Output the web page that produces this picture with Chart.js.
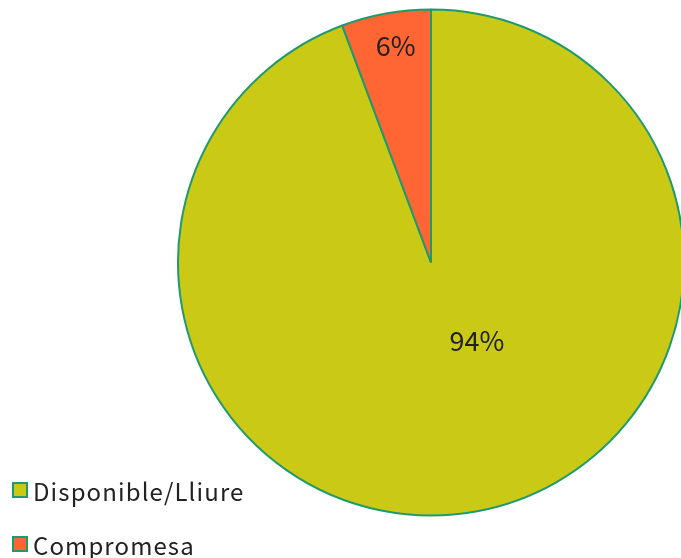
<!DOCTYPE html>
<html>
<head>
<meta charset="utf-8">
<script src="https://cdn.jsdelivr.net/npm/chart.js@4"></script>
<style>
    html, body { margin: 0; padding: 0; background: #fff; overflow: hidden; }
    #wrap { position: relative; width: 681px; height: 558px; }
    #legend { position: absolute; left: 12px; top: 463px; font-family: "Noto Sans CJK JP", "Noto Sans", sans-serif; font-size: 24px; letter-spacing: 1.1px; color: #222; }
    .leg-item { display: flex; align-items: center; height: 54px; }
    .leg-box { width: 12px; height: 12px; border: 2px solid #1e9a6e; margin-right: 5px; }
</style>
</head>
<body>
<div id="wrap">
    <canvas id="pieChart" width="681" height="558"></canvas>
    <div id="legend"></div>
</div>
<script>
const labels = ['Disponible/Lliure', 'Compromesa'];
const values = [94.3, 5.7];
const colors = ['#cac916', '#ff6633'];

// label placement per slice: fraction of radius, angle shift in degrees
const labelPlace = [[0.36, -20], [0.87, 1]];

const pctLabels = {
    id: 'pctLabels',
    afterDatasetsDraw(chart) {
        const ctx = chart.ctx;
        const meta = chart.getDatasetMeta(0);
        const total = values.reduce((a, b) => a + b, 0);
        ctx.save();
        ctx.font = '27px "Noto Sans CJK JP", "Noto Sans", sans-serif';
        ctx.fillStyle = '#222';
        ctx.textAlign = 'center';
        ctx.textBaseline = 'middle';
        meta.data.forEach((arc, i) => {
            const p = arc.getProps(['x', 'y', 'startAngle', 'endAngle', 'outerRadius'], true);
            const mid = (p.startAngle + p.endAngle) / 2 + labelPlace[i][1] * Math.PI / 180;
            const r = p.outerRadius * labelPlace[i][0];
            ctx.fillText(Math.round(values[i] / total * 100) + '%', p.x + Math.cos(mid) * r, p.y + Math.sin(mid) * r);
        });
        ctx.restore();
    }
};

new Chart(document.getElementById('pieChart'), {
    type: 'pie',
    data: {
        labels: labels,
        datasets: [{
            data: values,
            backgroundColor: colors,
            borderColor: '#1e9a6e',
            borderWidth: 2
        }]
    },
    options: {
        responsive: false,
        animation: false,
        radius: 253,
        layout: { padding: { left: 181, right: 0, top: 9, bottom: 42 } },
        plugins: {
            legend: { display: false },
            tooltip: { enabled: false }
        }
    },
    plugins: [pctLabels]
});

document.getElementById('legend').innerHTML = labels.map((l, i) =>
    `<div class="leg-item"><span class="leg-box" style="background:${colors[i]}"></span>${l}</div>`
).join('');
</script>
</body>
</html>
